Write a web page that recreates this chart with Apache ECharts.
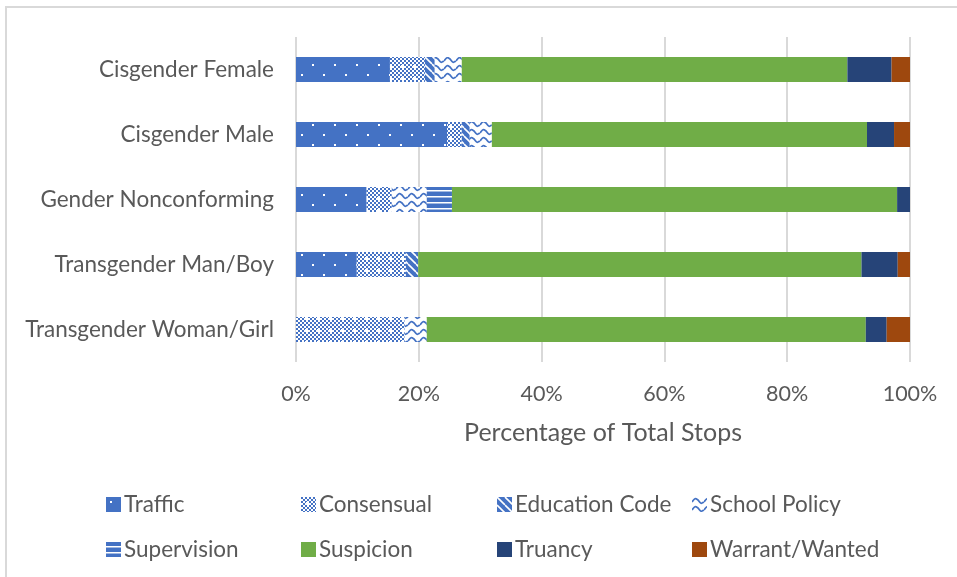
<!DOCTYPE html>
<html>
<head>
<meta charset="utf-8">
<script src="https://cdn.jsdelivr.net/npm/echarts@6/dist/echarts.min.js"></script>
<style>
  html, body { margin: 0; padding: 0; background: #fff; }
  #main { width: 957px; height: 577px; }
</style>
</head>
<body>
<div id="main"></div>
<script>
// categories, top to bottom
var categories = ['Cisgender Female', 'Cisgender Male', 'Gender Nonconforming', 'Transgender Man/Boy', 'Transgender Woman/Girl'];

// percent of total stops per reason
var traffic       = [15.3, 24.6, 11.5, 9.9, 0];
var consensual    = [5.7, 2.4, 4.1, 8.0, 17.7];
var educationCode = [1.6, 1.3, 0, 2.0, 0];
var schoolPolicy  = [4.4, 3.6, 5.7, 0, 3.6];
var supervision   = [0, 0, 4.1, 0, 0];
var suspicion     = [62.8, 61.1, 72.5, 72.2, 71.5];
var truancy       = [7.2, 4.4, 2.1, 5.9, 3.4];
var warrant       = [3.0, 2.6, 0, 2.0, 3.8];

var seriesNames = ['Traffic', 'Consensual', 'Education Code', 'School Policy', 'Supervision', 'Suspicion', 'Truancy', 'Warrant/Wanted'];
var seriesData = [traffic, consensual, educationCode, schoolPolicy, supervision, suspicion, truancy, warrant];
var xTicks = [0, 20, 40, 60, 80, 100];

var BLUE = '#4472C4';
var TEXT = '#595959';
var FONT = 'Lato';

// pattern tiles
function tile(w, h, draw) {
    var c = document.createElement('canvas');
    c.width = w; c.height = h;
    draw(c.getContext('2d'), w, h);
    return { image: c, repeat: 'repeat' };
}

var patterns = {
    'Traffic': tile(22, 20, function (g, w, h) {
        g.fillStyle = BLUE; g.fillRect(0, 0, w, h);
        g.fillStyle = '#fff';
        g.fillRect(4, 4, 2, 2);
        g.fillRect(15, 14, 2, 2);
    }),
    'Consensual': tile(12, 12, function (g, w, h) {
        g.fillStyle = '#fff'; g.fillRect(0, 0, w, h);
        g.fillStyle = BLUE;
        for (var y = 0; y < h; y += 2) {
            for (var x = (y / 2) % 2 ? 2 : 0; x < w; x += 4) g.fillRect(x, y, 2, 2);
        }
        g.fillStyle = '#fff';
        g.fillRect(5, 5, 3, 3);
    }),
    'Education Code': tile(8, 8, function (g, w, h) {
        g.fillStyle = BLUE; g.fillRect(0, 0, w, h);
        g.strokeStyle = '#fff'; g.lineWidth = 1.6;
        for (var k = -8; k <= 16; k += 8) {
            g.beginPath(); g.moveTo(k, 0); g.lineTo(k + 8, 8); g.stroke();
        }
    }),
    'School Policy': tile(12, 8, function (g, w, h) {
        g.fillStyle = '#fff'; g.fillRect(0, 0, w, h);
        g.strokeStyle = BLUE; g.lineWidth = 1.8;
        g.beginPath();
        g.moveTo(0, 5);
        g.bezierCurveTo(3, 1, 3, 1, 6, 3);
        g.bezierCurveTo(9, 7, 9, 7, 12, 5);
        g.stroke();
    }),
    'Supervision': tile(8, 6, function (g, w, h) {
        g.fillStyle = BLUE; g.fillRect(0, 0, w, h);
        g.fillStyle = '#fff'; g.fillRect(0, 4, w, 1.5);
    }),
    'Suspicion': '#70AD47',
    'Truancy': '#264478',
    'Warrant/Wanted': '#9E480E'
};

var series = seriesNames.map(function (name, i) {
    return {
        name: name,
        type: 'bar',
        stack: 'total',
        barWidth: 25,
        itemStyle: { color: patterns[name] },
        emphasis: { disabled: true },
        data: seriesData[i]
    };
});

// legend: 4 columns x 2 rows
var legendCols = [101, 296, 492, 687];
var legendRows = [488, 533];
var legends = seriesNames.map(function (name, i) {
    var col = i % 4;
    var row = i < 4 ? 0 : 1;
    return {
        data: [name],
        left: legendCols[col],
        top: legendRows[row],
        itemWidth: 15,
        itemHeight: 15,
        itemGap: 4,
        icon: 'rect',
        selectedMode: false,
        textStyle: { color: TEXT, fontSize: 22.5, fontFamily: FONT, padding: [0, 0, 0, -2] }
    };
});

var chart = echarts.init(document.getElementById('main'), null, { renderer: 'canvas' });
chart.setOption({
    animation: false,
    backgroundColor: '#fff',
    textStyle: { fontFamily: FONT },
    graphic: [{
        type: 'rect',
        shape: { x: 6, y: 7, width: 1000, height: 1000 },
        style: { fill: 'none', stroke: '#d9d9d9', lineWidth: 2 },
        silent: true
    }],
    grid: { left: 296, right: 47, top: 37, bottom: 215 },
    legend: legends,
    xAxis: {
        type: 'value',
        min: xTicks[0],
        max: xTicks[xTicks.length - 1],
        interval: 20,
        name: 'Percentage of Total Stops',
        nameLocation: 'middle',
        nameGap: 58,
        nameTextStyle: { color: TEXT, fontSize: 25, fontFamily: FONT },
        axisLine: { show: false },
        axisTick: { show: false },
        axisLabel: { formatter: '{value}%', color: TEXT, fontSize: 21.5, margin: 21, fontFamily: FONT },
        splitLine: { show: true, lineStyle: { color: '#d9d9d9', width: 2 } }
    },
    yAxis: {
        type: 'category',
        inverse: true,
        data: categories,
        axisLine: { show: false },
        axisTick: { show: false },
        axisLabel: { color: TEXT, fontSize: 22.5, margin: 22, fontFamily: FONT }
    },
    series: series
});
</script>
</body>
</html>
